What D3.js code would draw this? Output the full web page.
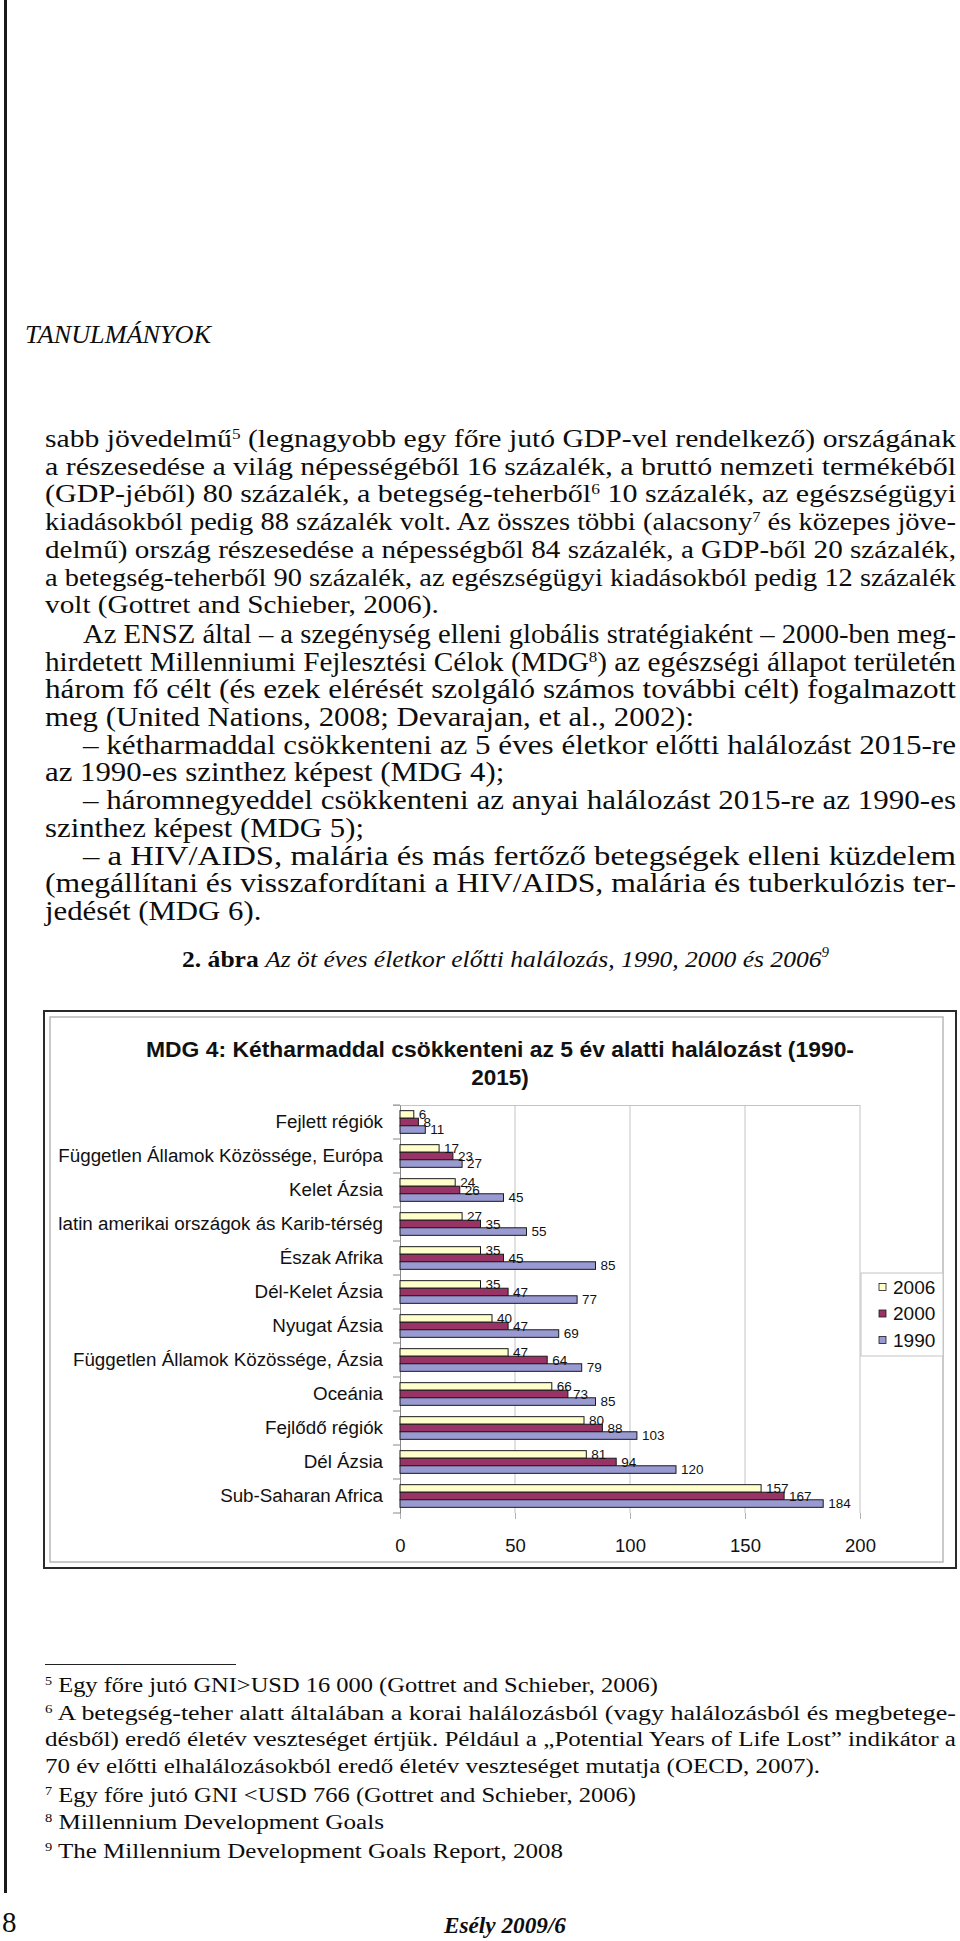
<!DOCTYPE html>
<html><head><meta charset="utf-8">
<script src="https://cdn.jsdelivr.net/npm/d3@7"></script>
<style>body{margin:0;background:#fff}svg{display:block}</style>
</head><body>
<script>
// ---------- chart data ----------
const categories = [
  "Fejlett régiók",
  "Független Államok Közössége, Európa",
  "Kelet Ázsia",
  "latin amerikai országok ás Karib-térség",
  "Észak Afrika",
  "Dél-Kelet Ázsia",
  "Nyugat Ázsia",
  "Független Államok Közössége, Ázsia",
  "Oceánia",
  "Fejlődő régiók",
  "Dél Ázsia",
  "Sub-Saharan Africa"
];
const seriesNames = ["2006", "2000", "1990"];
const values2006 = [6, 17, 24, 27, 35, 35, 40, 47, 66, 80, 81, 157];
const values2000 = [8, 23, 26, 35, 45, 47, 47, 64, 73, 88, 94, 167];
const values1990 = [11, 27, 45, 55, 85, 77, 69, 79, 85, 103, 120, 184];
const xTickValues = [0, 50, 100, 150, 200];
const seriesColors = ["#FFFFCC", "#993366", "#9A9AD2"];
const chartTitle1 = "MDG 4: Kétharmaddal csökkenteni az 5 év alatti halálozást (1990-";
const chartTitle2 = "2015)";

// ---------- page text ----------
const headerText = "TANULMÁNYOK";
const bodyTop = [
  "sabb jövedelmű^5 (legnagyobb egy főre jutó GDP-vel rendelkező) országának",
  "a részesedése a világ népességéből 16 százalék, a bruttó nemzeti termékéből",
  "(GDP-jéből) 80 százalék, a betegség-teherből^6 10 százalék, az egészségügyi",
  "kiadásokból pedig 88 százalék volt. Az összes többi (alacsony^7 és közepes jöve-",
  "delmű) ország részesedése a népességből 84 százalék, a GDP-ből 20 százalék,",
  "a betegség-teherből 90 százalék, az egészségügyi kiadásokból pedig 12 százalék",
  "volt (Gottret and Schieber, 2006)."
];
const bodyTopJustify = [1,1,1,1,1,1,0];
const bodyBottom = [
  "Az ENSZ által – a szegénység elleni globális stratégiaként – 2000-ben meg-",
  "hirdetett Millenniumi Fejlesztési Célok (MDG^8) az egészségi állapot területén",
  "három fő célt (és ezek elérését szolgáló számos további célt) fogalmazott",
  "meg (United Nations, 2008; Devarajan, et al., 2002):",
  "– kétharmaddal csökkenteni az 5 éves életkor előtti halálozást 2015-re",
  "az 1990-es szinthez képest (MDG 4);",
  "– háromnegyeddel csökkenteni az anyai halálozást 2015-re az 1990-es",
  "szinthez képest (MDG 5);",
  "– a HIV/AIDS, malária és más fertőző betegségek elleni küzdelem",
  "(megállítani és visszafordítani a HIV/AIDS, malária és tuberkulózis ter-",
  "jedését (MDG 6)."
];
const bodyBottomJustify = [1,1,1,0,1,0,1,0,1,1,0];
const bodyBottomIndent = [1,0,0,0,1,0,1,0,1,0,0];
const captionBold = "2. ábra ";
const captionItalic = "Az öt éves életkor előtti halálozás, 1990, 2000 és 2006";
const captionSup = "9";
const footnotes = [
  "^5 Egy főre jutó GNI>USD 16 000 (Gottret and Schieber, 2006)",
  "^6 A betegség-teher alatt általában a korai halálozásból (vagy halálozásból és megbetege-",
  "désből) eredő életév veszteséget értjük. Például a „Potential Years of Life Lost” indikátor a",
  "70 év előtti elhalálozásokból eredő életév veszteséget mutatja (OECD, 2007).",
  "^7 Egy főre jutó GNI <USD 766 (Gottret and Schieber, 2006)",
  "^8 Millennium Development Goals",
  "^9 The Millennium Development Goals Report, 2008"
];
// right end of each footnote line (justified lines run to the margin)
const footnoteRight = [658, 956, 956, 820, 636, 384, 563];
const footnoteCenters = [1686, 1714, 1740, 1767, 1796, 1823, 1852];
const pageNumber = "8";
const journal = "Esély 2009/6";

// ---------- drawing ----------
const W = 960, H = 1941;
const svg = d3.select("body").append("svg").attr("width", W).attr("height", H);
svg.append("rect").attr("width", W).attr("height", H).attr("fill", "#fff");

svg.append("line").attr("x1", 5.5).attr("x2", 5.5).attr("y1", 0).attr("y2", 1893)
  .attr("stroke", "#1a1a1a").attr("stroke-width", 3);

const SERIF = "'Liberation Serif','DejaVu Serif',serif";
const SANS = "'Liberation Sans',Arial,sans-serif";
const INK = "#0d0d0d";

function richText(g, str, x, y, size, style) {
  const t = g.append("text").attr("x", x).attr("y", y)
    .attr("font-family", SERIF).attr("font-size", size)
    .attr("font-style", style || "normal").attr("fill", INK);
  let pending = 0;
  str.split(/(\^\d)/).forEach(p => {
    if (!p) return;
    if (p[0] === "^") {
      t.append("tspan").attr("font-size", size * 0.58).attr("dy", -size * 0.33).text(p.slice(1));
      pending = size * 0.33;
    } else {
      const ts = t.append("tspan").text(p);
      if (pending) { ts.attr("dy", pending); pending = 0; }
    }
  });
  return t;
}

function block(lines, just, xs, baselines, size, right) {
  const items = lines.map((s, i) => {
    const t = richText(svg, s, xs[i], baselines[i], size);
    return { t, nat: t.node().getComputedTextLength(), j: just[i], x: xs[i] };
  });
  const ratios = items.filter(d => d.j).map(d => (right - d.x) / d.nat);
  const avg = d3.mean(ratios);
  items.forEach(d => {
    const len = d.j ? (right - d.x) : d.nat * avg;
    d.t.attr("textLength", len).attr("lengthAdjust", "spacingAndGlyphs");
  });
}

// header
svg.append("text").attr("x", 25).attr("y", 343).attr("font-family", SERIF)
  .attr("font-size", 26).attr("font-style", "italic").attr("fill", INK)
  .attr("textLength", 186).attr("lengthAdjust", "spacingAndGlyphs").text(headerText);

// body
const LEFT = 45, RIGHT = 956;
const LINE0 = 447, STEP = 27.7;
block(bodyTop, bodyTopJustify, bodyTop.map(() => LEFT),
  bodyTop.map((s, i) => LINE0 + i * STEP), 25, RIGHT);
block(bodyBottom, bodyBottomJustify, bodyBottomIndent.map(v => v ? 83 : LEFT),
  bodyBottom.map((s, i) => LINE0 + (i + 7) * STEP + 2), 26.5, RIGHT);

// caption
const cap = svg.append("text").attr("x", 182).attr("y", 967).attr("font-family", SERIF)
  .attr("font-size", 24).attr("fill", INK);
cap.append("tspan").attr("font-weight", "bold").text(captionBold);
cap.append("tspan").attr("font-style", "italic").text(captionItalic);
cap.append("tspan").attr("font-style", "italic").attr("font-size", 14).attr("dy", -10).text(captionSup);
cap.attr("textLength", 647).attr("lengthAdjust", "spacingAndGlyphs");

// ---------- chart ----------
svg.append("rect").attr("x", 44).attr("y", 1011).attr("width", 912).attr("height", 557)
  .attr("fill", "none").attr("stroke", "#2a2a2a").attr("stroke-width", 2);
svg.append("rect").attr("x", 50).attr("y", 1017).attr("width", 893).attr("height", 545)
  .attr("fill", "none").attr("stroke", "#b8b8b8").attr("stroke-width", 1.5);

svg.append("text").attr("x", 500).attr("y", 1057).attr("text-anchor", "middle")
  .attr("font-family", SANS).attr("font-weight", "bold").attr("font-size", 22.5)
  .attr("fill", "#111").attr("textLength", 708).attr("lengthAdjust", "spacingAndGlyphs")
  .text(chartTitle1);
svg.append("text").attr("x", 500).attr("y", 1085).attr("text-anchor", "middle")
  .attr("font-family", SANS).attr("font-weight", "bold").attr("font-size", 22.5)
  .attr("fill", "#111").text(chartTitle2);

const x = d3.scaleLinear().domain([0, 200]).range([400, 860]);
const y0 = d3.scaleBand().domain(categories).range([1105, 1513]).padding(0);
const barH = y0.bandwidth() / 4.5;
const y1 = d3.scaleBand().domain(seriesNames).range([0, barH * 3]).padding(0);
const groupOff = (y0.bandwidth() - barH * 3) / 2;

const gridG = svg.append("g");
gridG.selectAll("line.grid").data(xTickValues.slice(1)).join("line")
  .attr("x1", d => x(d)).attr("x2", d => x(d)).attr("y1", 1105).attr("y2", 1513)
  .attr("stroke", "#c4c4c4").attr("stroke-width", 1);
gridG.append("line").attr("x1", 393).attr("x2", 860).attr("y1", 1105.5).attr("y2", 1105.5)
  .attr("stroke", "#c4c4c4");

// x axis (ticks only)
const xAxis = d3.axisBottom(x).tickValues(xTickValues).tickSize(6).tickPadding(20);
const xg = svg.append("g").attr("transform", "translate(0,1513)").call(xAxis);
xg.select(".domain").remove();
xg.selectAll(".tick line").attr("stroke", "#b0b0b0");
xg.selectAll(".tick text").attr("font-family", SANS).attr("font-size", 18.5).attr("fill", "#111");

// category axis
const yAxis = d3.axisLeft(y0).tickSize(0).tickPadding(17);
const yg = svg.append("g").attr("transform", "translate(400,0)").call(yAxis);
yg.select(".domain").attr("stroke", "#8a8a8a");
yg.selectAll(".tick text").attr("font-family", SANS).attr("font-size", 18.8).attr("fill", "#111");
const bounds = categories.map(c => y0(c)).concat([1513]);
svg.append("g").selectAll("line").data(bounds).join("line")
  .attr("x1", 393).attr("x2", 400).attr("y1", d => d).attr("y2", d => d)
  .attr("stroke", "#8a8a8a");

// bars
const valuesBySeries = { "2006": values2006, "2000": values2000, "1990": values1990 };
const rows = [];
categories.forEach((c, i) => seriesNames.forEach((s, k) =>
  rows.push({ c, s, k, v: valuesBySeries[s][i] })));

const barG = svg.append("g");
barG.selectAll("rect").data(rows).join("rect")
  .attr("x", x(0))
  .attr("y", d => y0(d.c) + groupOff + y1(d.s))
  .attr("width", d => x(d.v) - x(0))
  .attr("height", y1.bandwidth())
  .attr("fill", d => seriesColors[d.k])
  .attr("stroke", "#1a1a1a").attr("stroke-width", 1);

barG.selectAll("text").data(rows).join("text")
  .attr("x", d => x(d.v) + 5)
  .attr("y", d => y0(d.c) + groupOff + y1(d.s) + y1.bandwidth() / 2)
  .attr("dy", "0.36em")
  .attr("font-family", SANS).attr("font-size", 13.5).attr("fill", "#111")
  .text(d => d.v);

// legend
const lg = svg.append("g");
lg.append("rect").attr("x", 861).attr("y", 1273).attr("width", 82).attr("height", 83)
  .attr("fill", "#fff").attr("stroke", "#c4c4c4");
seriesNames.forEach((s, k) => {
  const cy = 1287 + k * 26.5;
  lg.append("rect").attr("x", 879).attr("y", cy - 3.5).attr("width", 7).attr("height", 7)
    .attr("fill", seriesColors[k]).attr("stroke", "#1a1a1a").attr("stroke-width", 0.8);
  lg.append("text").attr("x", 893).attr("y", cy).attr("dy", "0.36em")
    .attr("font-family", SANS).attr("font-size", 19).attr("fill", "#111").text(s);
});

// ---------- footnotes ----------
svg.append("line").attr("x1", 45).attr("x2", 236).attr("y1", 1664.5).attr("y2", 1664.5)
  .attr("stroke", "#222").attr("stroke-width", 1);
footnotes.forEach((s, i) => {
  const t = richText(svg, s, 45, footnoteCenters[i] + 6, 20.5);
  t.attr("textLength", footnoteRight[i] - 45).attr("lengthAdjust", "spacingAndGlyphs");
});

// footer
svg.append("text").attr("x", 2).attr("y", 1932).attr("font-family", SERIF)
  .attr("font-size", 29).attr("fill", INK).text(pageNumber);
svg.append("text").attr("x", 505).attr("y", 1933).attr("text-anchor", "middle")
  .attr("font-family", SERIF).attr("font-size", 24).attr("font-style", "italic")
  .attr("font-weight", "bold").attr("fill", INK)
  .attr("textLength", 122).attr("lengthAdjust", "spacingAndGlyphs").text(journal);
</script>
</body></html>
